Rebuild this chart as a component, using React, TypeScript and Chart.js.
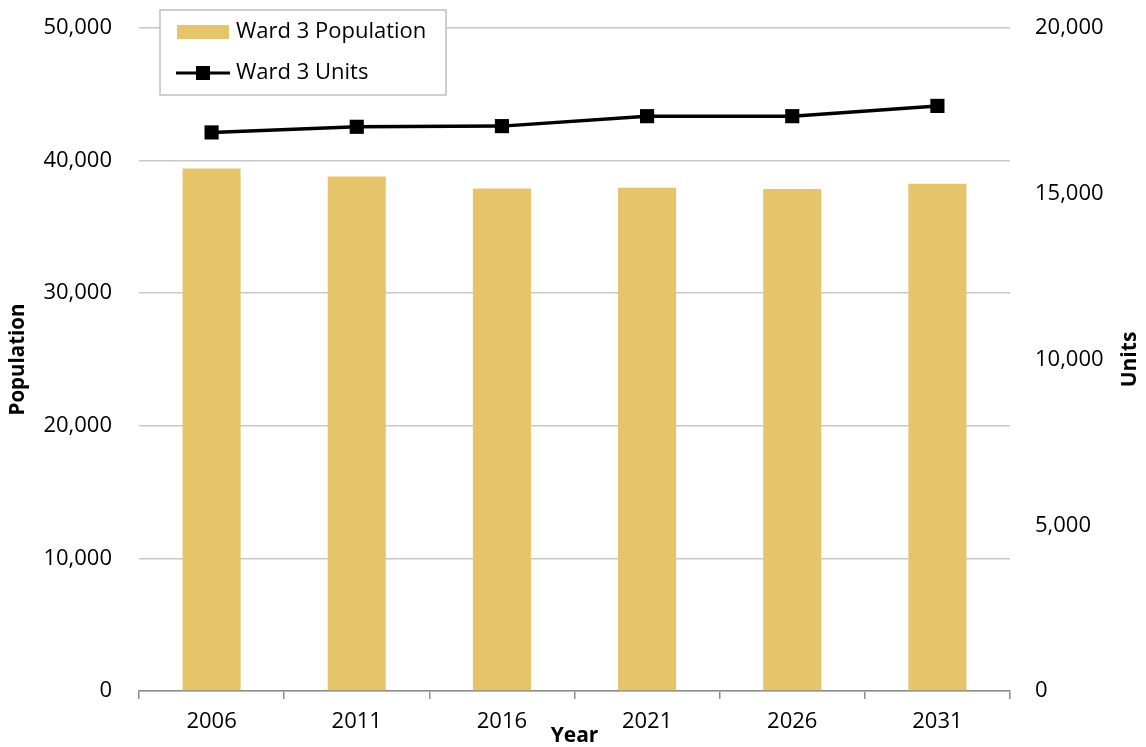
import React, { useEffect, useRef } from "react";
import { Chart, registerables } from "chart.js";
Chart.register(...registerables);

const years = ["2006", "2011", "2016", "2021", "2026", "2031"];
const population = [39400, 38800, 37900, 37950, 37850, 38250];
const units = [16850, 17020, 17040, 17340, 17340, 17650];
const popLabel = "Ward 3 Population";
const unitsLabel = "Ward 3 Units";

const FONT = "'Open Sans', sans-serif";
const GOLD = "#E6C46A";
const GRID = "#C8C8C8";
const AXIS = "#8C8C8C";

const overlayPlugin = {
  id: "overlay",
  afterDraw(chart: any) {
    const ctx = chart.ctx as CanvasRenderingContext2D;
    const ca = chart.chartArea;
    ctx.save();
    // Units title (rotated, reads bottom-to-top)
    ctx.font = `bold 21px ${FONT}`;
    ctx.fillStyle = "#000";
    ctx.textAlign = "center";
    ctx.textBaseline = "middle";
    ctx.translate(1130, (ca.top + ca.bottom) / 2);
    ctx.rotate(-Math.PI / 2);
    ctx.fillText("Units", 0, 0);
    ctx.restore();

    // boxed legend
    ctx.save();
    const lx = ca.left + 21;
    const ly = ca.top - 18;
    const lw = 286;
    const lh = 85;
    ctx.fillStyle = "#fff";
    ctx.fillRect(lx, ly, lw, lh);
    ctx.strokeStyle = "#BFBFBF";
    ctx.lineWidth = 1.5;
    ctx.strokeRect(lx, ly, lw, lh);
    ctx.fillStyle = GOLD;
    ctx.fillRect(lx + 17, ly + 15, 52, 14);
    ctx.strokeStyle = "#000";
    ctx.lineWidth = 3;
    ctx.beginPath();
    ctx.moveTo(lx + 16, ly + 63);
    ctx.lineTo(lx + 70, ly + 63);
    ctx.stroke();
    ctx.fillStyle = "#000";
    ctx.fillRect(lx + 36, ly + 56, 14, 14);
    ctx.font = `22px ${FONT}`;
    ctx.textAlign = "left";
    ctx.textBaseline = "middle";
    ctx.fillText(popLabel, lx + 76, ly + 22);
    ctx.fillText(unitsLabel, lx + 76, ly + 63);
    ctx.restore();
  },
};

export default function App() {
  const ref = useRef<HTMLCanvasElement>(null);
  useEffect(() => {
    document.body.style.margin = "0";
    const chart = new Chart(ref.current!, {
      type: "bar",
      data: {
        labels: years,
        datasets: [
          {
            type: "line",
            label: unitsLabel,
            data: units,
            yAxisID: "y1",
            borderColor: "#000",
            backgroundColor: "#000",
            borderWidth: 3.5,
            pointStyle: "rect",
            pointRadius: 10,
            pointBackgroundColor: "#000",
            pointBorderWidth: 0,
            order: 0,
          } as any,
          {
            type: "bar",
            label: popLabel,
            data: population,
            yAxisID: "y",
            backgroundColor: GOLD,
            barPercentage: 0.4,
            categoryPercentage: 1,
            order: 1,
          },
        ],
      },
      options: {
        responsive: false,
        animation: false,
        layout: { padding: { top: 28, left: 0, right: 0, bottom: 0 } },
        plugins: { legend: { display: false }, tooltip: { enabled: false } },
        scales: {
          x: {
            offset: true,
            grid: {
              display: true,
              drawOnChartArea: false,
              drawTicks: true,
              tickLength: 8,
              color: AXIS,
              lineWidth: 1.5,
              offset: true,
            },
            border: { display: true, color: AXIS, width: 1.5 },
            ticks: { color: "#000", font: { family: FONT, size: 22 }, padding: 10 },
            title: {
              display: true,
              text: "Year",
              color: "#000",
              font: { family: FONT, size: 21, weight: "bold", lineHeight: 1 },
              padding: { top: 0, bottom: 0 },
            },
            afterFit(scale: any) {
              scale.height = 56;
            },
          },
          y: {
            position: "left",
            min: 0,
            max: 50000,
            grid: { color: GRID, lineWidth: 1.5, drawTicks: false },
            border: { display: false },
            ticks: {
              stepSize: 10000,
              color: "#000",
              padding: 27,
              font: { family: FONT, size: 22 },
              callback: (v: any) => Number(v).toLocaleString("en-US"),
            },
            title: {
              display: true,
              text: "Population",
              color: "#000",
              font: { family: FONT, size: 20.5, weight: "bold" },
              padding: { top: 6, bottom: 0 },
            },
            afterFit(scale: any) {
              scale.width = 139;
              scale.paddingTop = 0;
              scale.paddingBottom = 0;
            },
          },
          y1: {
            position: "right",
            min: 0,
            max: 20000,
            grid: { display: false, drawTicks: false },
            border: { display: false },
            ticks: {
              stepSize: 5000,
              color: "#000",
              padding: 25,
              font: { family: FONT, size: 22 },
              callback: (v: any) => Number(v).toLocaleString("en-US"),
            },
            afterFit(scale: any) {
              scale.width = 136;
              scale.paddingTop = 0;
              scale.paddingBottom = 0;
            },
          },
        },
      },
      plugins: [overlayPlugin],
    });
    return () => chart.destroy();
  }, []);
  return <canvas ref={ref} width={1146} height={747} style={{ display: "block" }} />;
}
